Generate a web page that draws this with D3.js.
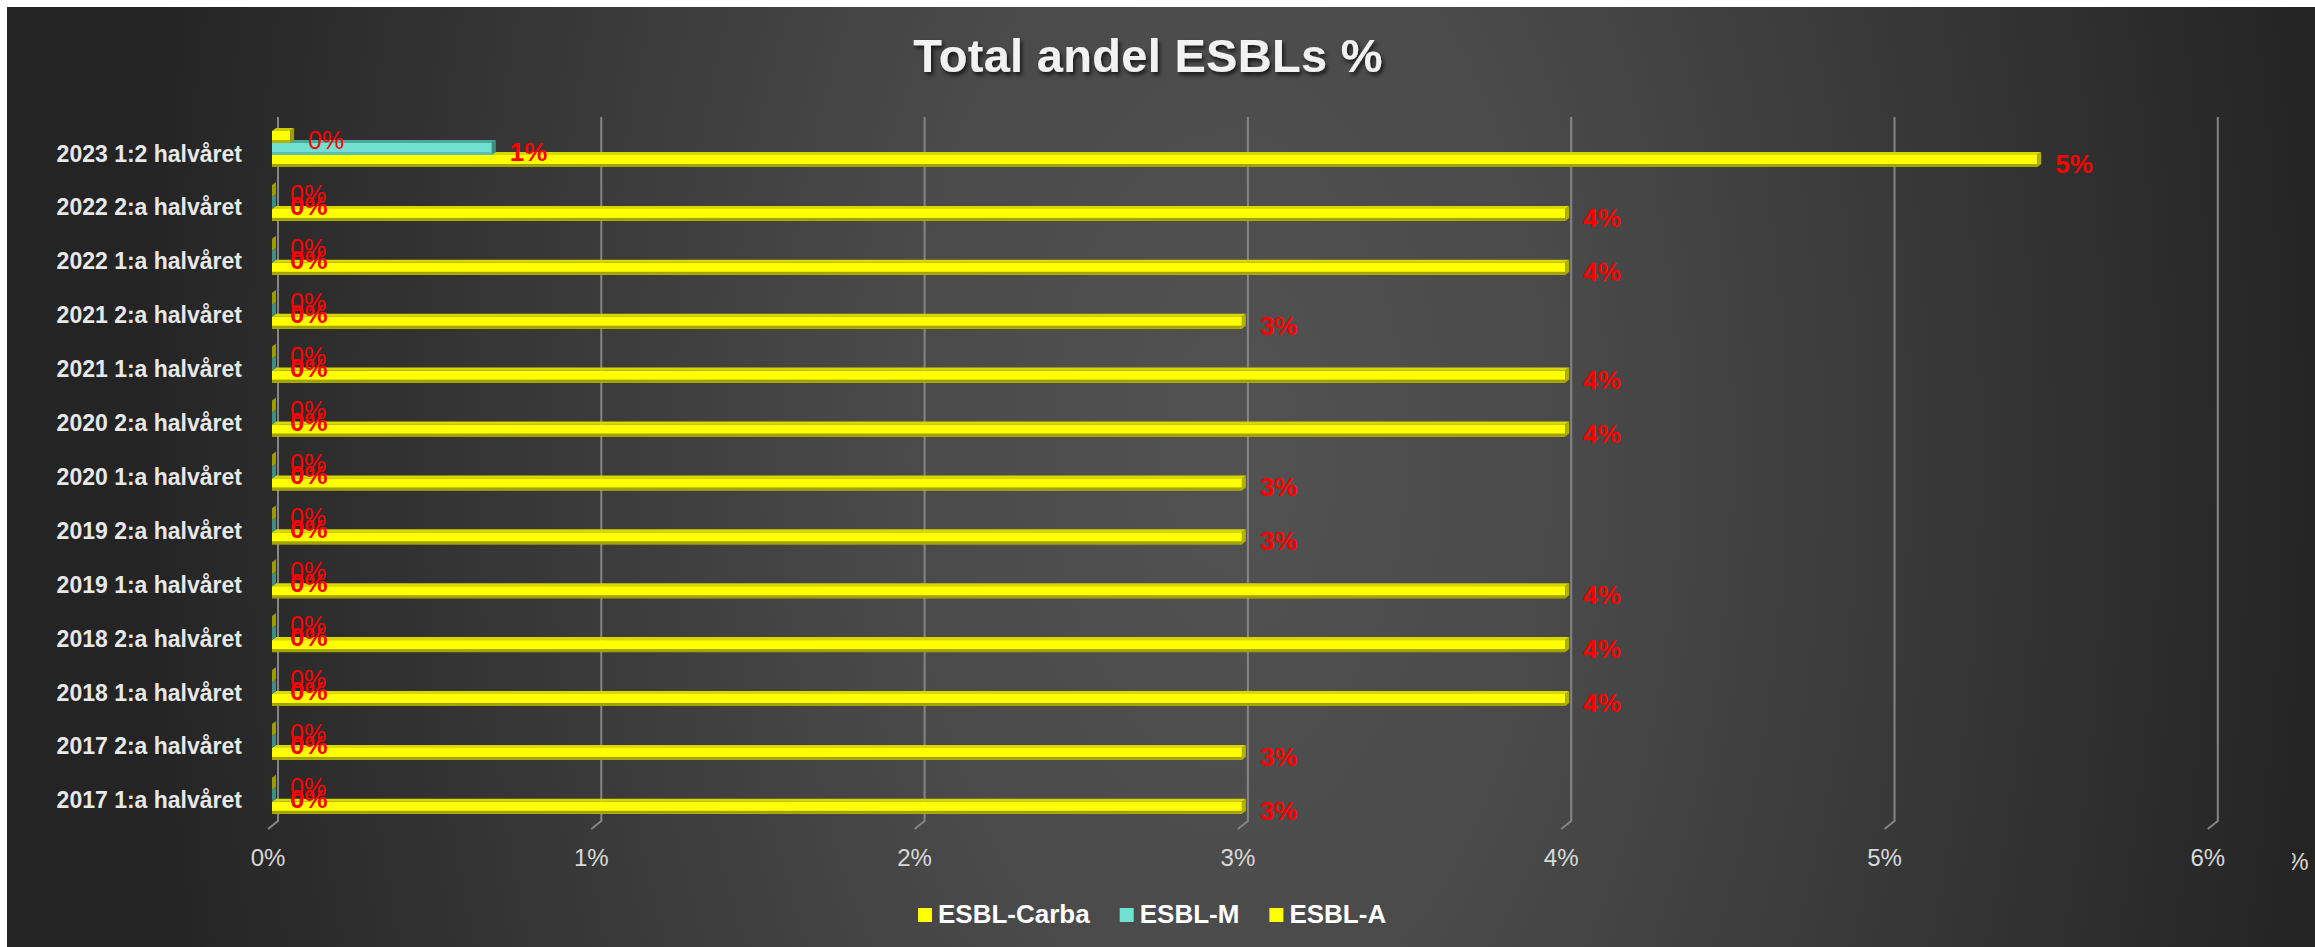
<html>
<head>
    <script src="https://d3js.org/d3.v7.min.js"></script>
</head>
<style>
    body { margin: 0; background: #ffffff; }
    text { font-family: "Liberation Sans", Arial, sans-serif; }
</style>
<body>
<svg width="2315" height="947"></svg>
<script>

    var categories = ["2023 1:2 halvåret", "2022 2:a halvåret", "2022 1:a halvåret", "2021 2:a halvåret",
                      "2021 1:a halvåret", "2020 2:a halvåret", "2020 1:a halvåret", "2019 2:a halvåret",
                      "2019 1:a halvåret", "2018 2:a halvåret", "2018 1:a halvåret", "2017 2:a halvåret",
                      "2017 1:a halvåret"];
    var esblCarba = [0.00056, 0, 0, 0, 0, 0, 0, 0, 0, 0, 0, 0, 0];
    var esblM     = [0.0068, 0, 0, 0, 0, 0, 0, 0, 0, 0, 0, 0, 0];
    var esblA     = [0.0546, 0.04, 0.04, 0.03, 0.04, 0.04, 0.03, 0.03, 0.04, 0.04, 0.04, 0.03, 0.03];
    var seriesNames = ["ESBL-Carba", "ESBL-M", "ESBL-A"];
    var xTicks = [0, 0.01, 0.02, 0.03, 0.04, 0.05, 0.06];

    var svg = d3.select("svg");
    var fmt = d3.format(".0%");

    var defs = svg.append("defs");
    var grad = defs.append("radialGradient")
        .attr("id", "bg")
        .attr("gradientUnits", "userSpaceOnUse")
        .attr("cx", 1230).attr("cy", 450).attr("r", 1100)
        .attr("gradientTransform", "translate(1230,450) scale(1,1.8) translate(-1230,-450)");
    grad.append("stop").attr("offset", 0).attr("stop-color", "#525252");
    grad.append("stop").attr("offset", 0.3).attr("stop-color", "#4a4a4a");
    grad.append("stop").attr("offset", 1).attr("stop-color", "#242424");

    var shadow = defs.append("filter").attr("id", "shadow")
        .attr("x", "-10%").attr("y", "-20%").attr("width", "120%").attr("height", "150%");
    shadow.append("feDropShadow").attr("dx", 2).attr("dy", 3).attr("stdDeviation", 2)
        .attr("flood-color", "#000").attr("flood-opacity", 0.7);

    defs.append("clipPath").attr("id", "pctclip")
        .append("rect").attr("x", 2292).attr("y", 830).attr("width", 30).attr("height", 60);

    svg.append("rect")
       .attr("x", 7).attr("y", 7).attr("width", 2308).attr("height", 940)
       .attr("fill", "url(#bg)");

    // title
    svg.append("text")
       .attr("x", 1148).attr("y", 72)
       .attr("text-anchor", "middle")
       .attr("font-size", 47).attr("font-weight", "bold")
       .attr("letter-spacing", 0.3)
       .attr("fill", "#f2f2f2")
       .attr("filter", "url(#shadow)")
       .text("Total andel ESBLs %");

    var xScale = d3.scaleLinear().domain([0, 0.06]).range([272, 272 + 6 * 323.3]);
    var yScale = d3.scaleBand().domain(categories).range([126.55, 126.55 + 13 * 53.9]);
    var sScale = d3.scaleBand().domain(seriesNames).range([-22.5, 13.5]);

    var colors = {
        "ESBL-Carba": {front: "#ffff00", top: "#c9c900", side: "#9c9c00", bottom: "#b3b300"},
        "ESBL-M":     {front: "#70e0d0", top: "#4fa89c", side: "#3f8d83", bottom: "#5cbfb1"},
        "ESBL-A":     {front: "#ffff00", top: "#d8d800", side: "#b0b000", bottom: "#a3a300"}
    };
    var dx = 4, dy = 3;

    // back wall gridlines and floor ticks
    var grid = svg.append("g");
    grid.selectAll(".grid")
        .data(xTicks).enter().append("path")
        .attr("d", function(d) {
            var x = xScale(d);
            return "M" + (x + 6) + ",117 L" + (x + 6) + ",821 L" + (x - 4) + ",829";
        })
        .attr("fill", "none")
        .attr("stroke", "#858585")
        .attr("stroke-width", 2);

    grid.selectAll(".tick")
        .data(xTicks).enter().append("text")
        .attr("x", function(d) { return xScale(d) - 4; })
        .attr("y", 866)
        .attr("text-anchor", "middle")
        .attr("font-size", 24)
        .attr("fill", "#d9d9d9")
        .text(function(d) { return fmt(d); });

    svg.append("text")
       .attr("x", 2298).attr("y", 870)
       .attr("text-anchor", "middle")
       .attr("font-size", 24)
       .attr("fill", "#d9d9d9")
       .attr("clip-path", "url(#pctclip)")
       .text("%");

    // category labels
    svg.selectAll(".cat")
       .data(categories).enter().append("text")
       .attr("x", 242)
       .attr("y", function(d) { return yScale(d) + yScale.bandwidth() / 2 + 8; })
       .attr("text-anchor", "end")
       .attr("font-size", 23).attr("font-weight", "bold")
       .attr("fill", "#e8e8e8")
       .text(function(d) { return d; });

    var rows = categories.map(function(c, i) {
        return [
            {cat: c, name: "ESBL-Carba", value: esblCarba[i]},
            {cat: c, name: "ESBL-M", value: esblM[i]},
            {cat: c, name: "ESBL-A", value: esblA[i]}
        ];
    });

    // draw bottom series first so upper bars cover their top faces
    var order = ["ESBL-A", "ESBL-M", "ESBL-Carba"];
    var bars = svg.append("g");
    order.forEach(function(name) {
        var data = rows.map(function(r) { return r.filter(function(d) { return d.name == name; })[0]; });
        var c = colors[name];
        var g = bars.append("g");
        var y0 = function(d) { return yScale(d.cat) + yScale.bandwidth() / 2 + sScale(d.name); };
        var h = sScale.bandwidth();

        g.selectAll(".top").data(data).enter().append("path")
         .attr("d", function(d) {
             var x0 = xScale(0), x1 = xScale(d.value), y = y0(d);
             return "M" + x0 + "," + y + " L" + x1 + "," + y + " L" + (x1 + dx) + "," + (y - dy) +
                    " L" + (x0 + dx) + "," + (y - dy) + "Z";
         })
         .attr("fill", c.top);

        g.selectAll(".front").data(data).enter().append("rect")
         .attr("x", xScale(0))
         .attr("y", y0)
         .attr("width", function(d) { return xScale(d.value) - xScale(0); })
         .attr("height", h)
         .attr("fill", c.front);

        g.selectAll(".bottom").data(data).enter().append("rect")
         .attr("x", xScale(0))
         .attr("y", function(d) { return y0(d) + h - 3; })
         .attr("width", function(d) { return xScale(d.value) - xScale(0); })
         .attr("height", 3)
         .attr("fill", c.bottom);

        g.selectAll(".side").data(data).enter().append("path")
         .attr("d", function(d) {
             var x1 = xScale(d.value), y = y0(d);
             return "M" + x1 + "," + y + " L" + (x1 + dx) + "," + (y - dy) + " L" + (x1 + dx) + "," + (y + h - dy) +
                    " L" + x1 + "," + (y + h) + "Z";
         })
         .attr("fill", c.side);
    });

    // data labels
    var labels = svg.append("g");
    rows.forEach(function(r) {
        labels.selectAll(null).data(r).enter().append("text")
         .attr("x", function(d) { return xScale(d.value) + dx + 14; })
         .attr("y", function(d) { return yScale(d.cat) + yScale.bandwidth() / 2 + sScale(d.name) + sScale.bandwidth() / 2 + 12; })
         .attr("font-size", function(d) { return d.name == "ESBL-Carba" ? 25 : 26; })
         .attr("font-weight", function(d) { return d.name == "ESBL-Carba" ? "normal" : "bold"; })
         .attr("fill", "#ff0000")
         .text(function(d) { return fmt(d.value); });
    });

    // legend
    var legend = svg.append("g");
    var lx = 918;
    seriesNames.forEach(function(name) {
        legend.append("rect")
              .attr("x", lx).attr("y", 908).attr("width", 14).attr("height", 14)
              .attr("fill", colors[name].front);
        var t = legend.append("text")
              .attr("x", lx + 20).attr("y", 923)
              .attr("font-size", 26).attr("font-weight", "bold")
              .attr("fill", "#ffffff")
              .text(name);
        lx = lx + 20 + t.node().getComputedTextLength() + 30;
    });

</script>
</body>
</html>
